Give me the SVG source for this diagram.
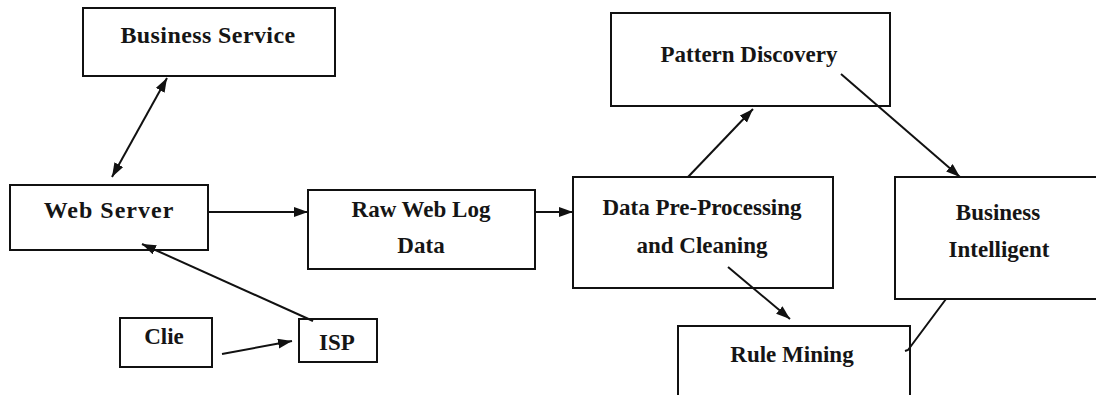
<svg xmlns="http://www.w3.org/2000/svg" width="1096" height="395" viewBox="0 0 1096 395">
<style>
.box{fill:#fff;stroke:#111;stroke-width:2}
.lbl{font-family:"Liberation Serif","Times New Roman",serif;font-size:23px;font-weight:bold;fill:#151515;text-anchor:middle}
.wide{font-size:24px;letter-spacing:0.4px}
.edge{stroke:#111;stroke-width:2;fill:none}
.arr{marker-end:url(#ah)}
</style>
<defs>
<marker id="ah" markerUnits="userSpaceOnUse" markerWidth="16" markerHeight="12" refX="14" refY="5" orient="auto-start-reverse">
<path d="M0,0 L14,5 L0,10 z" fill="#111"/>
</marker>
</defs>
<rect x="0" y="0" width="1096" height="395" fill="#fff"/>
<g id="business-service">
<rect class="box" x="83" y="8" width="252" height="68"/>
<text class="lbl wide" x="208" y="43">Business Service</text>
</g>
<g id="web-server">
<rect class="box" x="10" y="185" width="198" height="65"/>
<text class="lbl wide" x="109" y="218" style="letter-spacing:1px">Web Server</text>
</g>
<g id="raw-web-log">
<rect class="box" x="308" y="190" width="227" height="79"/>
<text class="lbl" x="421" y="217">Raw Web Log</text>
<text class="lbl" x="421" y="253">Data</text>
</g>
<g id="clie">
<rect class="box" x="120" y="318" width="92" height="49"/>
<text class="lbl" x="164" y="344">Clie</text>
</g>
<g id="isp">
<rect class="box" x="299" y="319" width="78" height="43"/>
<text class="lbl" x="337" y="350">ISP</text>
</g>
<g id="data-preprocessing">
<rect class="box" x="573" y="177" width="260" height="111"/>
<text class="lbl" x="702" y="215">Data Pre-Processing</text>
<text class="lbl" x="702" y="253">and Cleaning</text>
</g>
<g id="pattern-discovery">
<rect class="box" x="611" y="13" width="279" height="93"/>
<text class="lbl" x="749" y="62">Pattern Discovery</text>
</g>
<g id="business-intelligent">
<rect class="box" x="895" y="177" width="210" height="122"/>
<text class="lbl" x="998" y="220">Business</text>
<text class="lbl" x="999" y="257">Intelligent</text>
</g>
<g id="rule-mining">
<rect class="box" x="678" y="326" width="232" height="80"/>
<text class="lbl" x="792" y="362">Rule Mining</text>
</g>
<g id="connectors">
<line class="edge arr" x1="167" y1="78" x2="112" y2="177" marker-start="url(#ah)"/>
<line class="edge arr" x1="208" y1="212" x2="308" y2="212"/>
<line class="edge arr" x1="535" y1="212" x2="573" y2="212"/>
<line class="edge arr" x1="313" y1="321" x2="142" y2="244"/>
<line class="edge arr" x1="222" y1="354" x2="292" y2="341"/>
<line class="edge arr" x1="688" y1="177" x2="753" y2="109"/>
<line class="edge arr" x1="841" y1="74" x2="960" y2="177"/>
<line class="edge arr" x1="728" y1="267" x2="790" y2="319"/>
<polyline class="edge" points="946,299 908,350 905,351"/>
</g>
</svg>
